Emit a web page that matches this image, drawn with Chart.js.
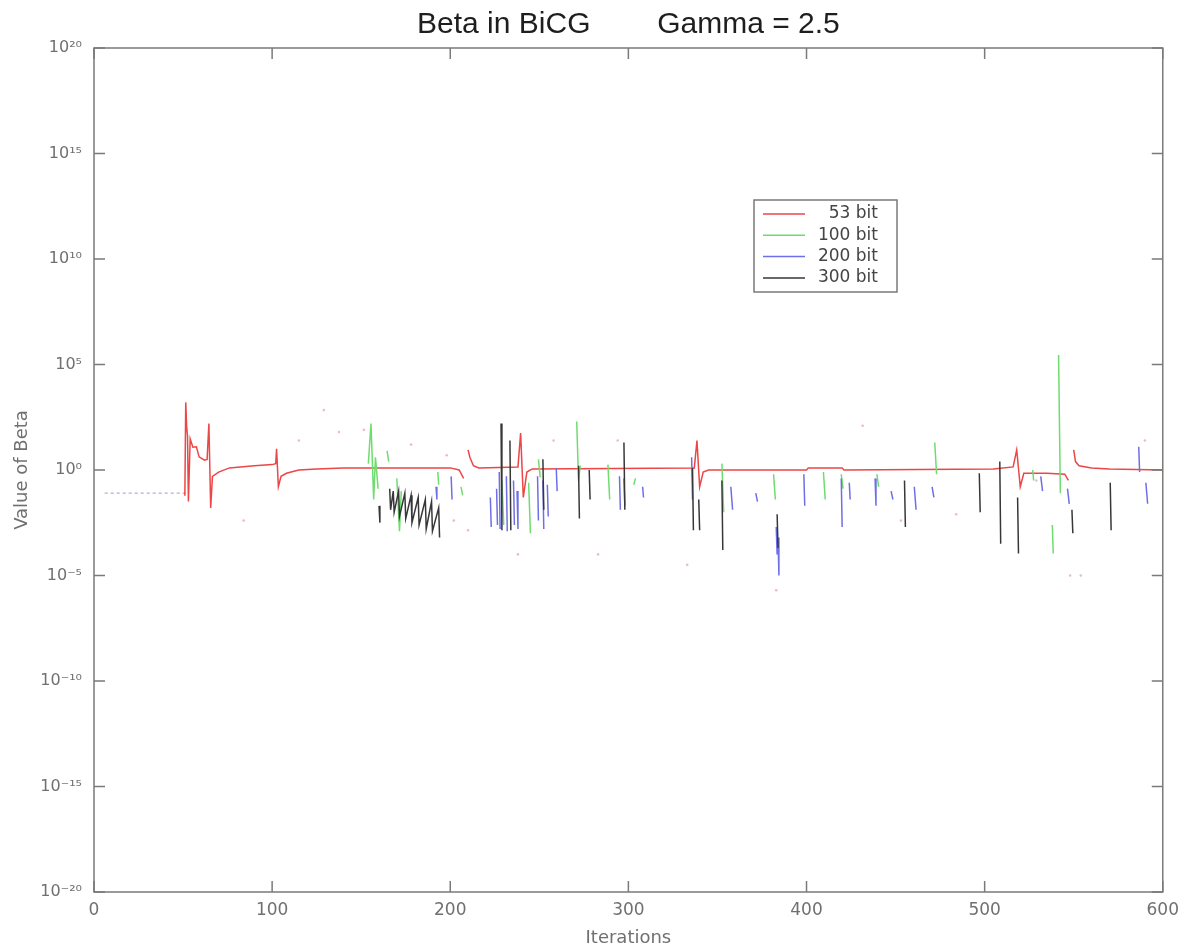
<!DOCTYPE html>
<html>
<head>
<meta charset="utf-8">
<title>Beta in BiCG</title>
<script src="https://cdn.jsdelivr.net/npm/chart.js@4.4.1/dist/chart.umd.min.js"></script>
<style>
  html, body { margin: 0; padding: 0; background: #fff; }
  #chart { display: block; }
</style>
</head>
<body>
<canvas id="chart" width="1187" height="950"></canvas>
<script>
// values, each series is a list of segments of [iteration, beta]
const seriesNames = ["53 bit", "100 bit", "200 bit", "300 bit"];

const bit53 = [
  [[51, 6e-2], [51.5, 1.6e3], [52, 120], [52.5, 40], [53, 3.2e-2], [54, 30], [55.5, 12], [57.5, 12.6],
   [59, 4.2], [62, 2.9], [63.5, 3.2], [64.5, 160], [65.5, 1.6e-2], [66.5, 0.5], [70, 0.8], [76, 1.26],
   [90, 1.6], [100, 1.8], [102, 2], [102.5, 10], [103.5, 0.16], [105, 0.5], [108, 0.7], [115, 1],
   [125, 1.12], [140, 1.26], [200, 1.26], [205, 1], [207.5, 0.4]],
  [[210, 9], [211, 4], [213, 1.6], [216, 1.26], [238, 1.4], [239.5, 56], [241, 5e-2], [243, 0.8],
   [246, 1.12], [337, 1.26], [338.5, 25], [340, 0.16], [342, 0.8], [345, 1], [400, 1], [401, 1.26],
   [420, 1.26], [421, 1], [505, 1.12], [516, 1.4], [518, 9], [520, 0.16], [522, 0.7], [535, 0.7],
   [545, 0.63], [547, 0.32]],
  [[550, 9], [551, 2.5], [553, 1.6], [560, 1.26], [570, 1.12], [600, 1]]
];

const bit100 = [
  [[154, 2], [155.5, 160], [157, 4e-2], [158, 4], [159.5, 0.13]],
  [[164.5, 8], [165.5, 2.5]],
  [[170, 0.4], [171.5, 1.26e-3], [172.5, 0.1]],
  [[193, 0.8], [193.5, 0.2]],
  [[206, 0.16], [207, 6.3e-2]],
  [[229, 0.32], [230, 2.5e-3]],
  [[244, 0.25], [245, 1e-3]],
  [[249.5, 3.2], [250.5, 0.45]],
  [[271, 200], [272, 0.32], [273, 1.6]],
  [[288.5, 1.8], [289.5, 4e-2]],
  [[303, 0.2], [304, 0.4]],
  [[352.5, 2], [353.5, 1e-2]],
  [[381.5, 0.63], [382.5, 4e-2]],
  [[409.5, 0.8], [410.5, 4e-2]],
  [[419.5, 0.63], [420.5, 0.13]],
  [[439.5, 0.63], [440.5, 0.16]],
  [[472, 20], [473, 0.63]],
  [[527, 1], [527.5, 0.32]],
  [[538, 2.5e-3], [538.5, 1.1e-4]],
  [[541.5, 2.8e5], [542.5, 8e-2]]
];

const bit200 = [
  [[192, 0.16], [192.5, 4e-2]],
  [[200.5, 0.5], [201, 4e-2]],
  [[222.5, 5e-2], [223, 2e-3]],
  [[226, 0.13], [226.5, 2.5e-3]],
  [[227.5, 0.8], [228, 1.6e-3]],
  [[231.5, 0.5], [232, 1.26e-3]],
  [[235.5, 0.32], [236, 2.5e-3]],
  [[237.5, 0.1], [238, 1.6e-3]],
  [[249, 0.5], [249.5, 4e-3]],
  [[252, 0.32], [252.5, 1.6e-3]],
  [[254.5, 0.2], [255, 6.3e-3]],
  [[259.5, 1.26], [260, 0.1]],
  [[295, 0.5], [295.5, 1.3e-2]],
  [[297.5, 0.4], [298, 2e-2]],
  [[308, 0.16], [308.5, 5e-2]],
  [[335.5, 4], [336, 4e-2]],
  [[357.5, 0.16], [358.5, 1.3e-2]],
  [[371.5, 8e-2], [372.5, 3.2e-2]],
  [[383, 2e-3], [383.5, 1e-4], [384, 6.3e-4], [384.5, 1e-5]],
  [[398.5, 0.63], [399, 2e-2]],
  [[419.5, 0.4], [420, 2e-3]],
  [[424, 0.25], [424.5, 4e-2]],
  [[438.5, 0.4], [439, 2e-2]],
  [[447.5, 0.1], [448.5, 4e-2]],
  [[460.5, 0.16], [461.5, 1.3e-2]],
  [[470.5, 0.16], [471.5, 5e-2]],
  [[531.5, 0.5], [532.5, 0.1]],
  [[546.5, 0.13], [547.5, 2.5e-2]],
  [[586.5, 12.6], [587, 0.8]],
  [[590.5, 0.25], [591.5, 2.5e-2]]
];

const bit300 = [
  [[160, 2e-2], [160.5, 3.2e-3]],
  [[166, 0.13], [166.5, 1.3e-2], [168, 0.1], [168.5, 1e-2], [171, 0.1], [171.5, 6.3e-3],
   [174.5, 8e-2], [175, 5e-3], [178, 6.3e-2], [178.5, 3.2e-3], [182, 5e-2], [182.5, 2.5e-3],
   [186, 4e-2], [186.5, 1.6e-3], [189.5, 3.2e-2], [190, 1.26e-3], [193.5, 1.6e-2], [194, 6.3e-4]],
  [[228.5, 160], [229, 1.4e-3]],
  [[233.5, 25], [234, 1.4e-3]],
  [[252, 3.2], [252.5, 1.3e-2]],
  [[272, 1.6], [272.5, 5e-3]],
  [[278, 1], [278.5, 4e-2]],
  [[297.5, 20], [298, 1.3e-2]],
  [[336, 1.26], [336.5, 1.4e-3]],
  [[339.5, 4e-2], [340, 1.4e-3]],
  [[352.5, 0.32], [353, 1.6e-4]],
  [[383.5, 8e-3], [384, 2e-4]],
  [[455, 0.32], [455.5, 2e-3]],
  [[497, 0.7], [497.5, 1e-2]],
  [[508.5, 2.5], [509, 3.2e-4]],
  [[518.5, 5e-2], [519, 1.1e-4]],
  [[549, 1.3e-2], [549.5, 1e-3]],
  [[570.5, 0.25], [571, 1.4e-3]]
];

// the faint dotted start and the stray faint points
const startDots = [[[6, 8e-2], [52, 8e-2]]];
const strayPoints = [
  [115, 25], [129, 690], [137.5, 63], [151.5, 80], [178, 16], [198, 5], [202, 4e-3], [210, 1.4e-3],
  [84, 4e-3], [238, 1e-4], [258, 25], [283, 1e-4], [294, 25], [333, 3.2e-5], [383, 2e-6],
  [431.5, 126], [453, 4e-3], [484, 8e-3], [529, 0.32], [548, 1e-5], [554, 1e-5], [590, 25]
];

const xTickValues = [0, 100, 200, 300, 400, 500, 600];
const yTickExponents = [-20, -15, -10, -5, 0, 5, 10, 15, 20];
const yTickLabels = ["10\u207B\u00B2\u2070", "10\u207B\u00B9\u2075", "10\u207B\u00B9\u2070", "10\u207B\u2075",
  "10\u2070", "10\u2075", "10\u00B9\u2070", "10\u00B9\u2075", "10\u00B2\u2070"];

const toPoints = segments =>
  segments.flatMap((seg, i) => {
    const pts = seg.map(([x, y]) => ({ x: x, y: y }));
    return i ? [{ x: seg[0][0], y: null }, ...pts] : pts;
  });

const lineSet = (label, segments, color, order) => ({
  label: label,
  data: toPoints(segments),
  borderColor: color,
  backgroundColor: color,
  borderWidth: 1.5,
  pointRadius: 0,
  spanGaps: false,
  tension: 0,
  fill: false,
  order: order
});

const framePlugin = {
  id: "frame",
  afterDatasetsDraw(chart) {
    const { ctx, chartArea: a, scales } = chart;
    ctx.save();
    ctx.strokeStyle = "#7a7a7a";
    ctx.lineWidth = 1.5;
    ctx.strokeRect(a.left, a.top, a.right - a.left, a.bottom - a.top);
    ctx.beginPath();
    scales.x.ticks.forEach(t => {
      const px = scales.x.getPixelForValue(t.value);
      ctx.moveTo(px, a.bottom);
      ctx.lineTo(px, a.bottom - 11);
      ctx.moveTo(px, a.top);
      ctx.lineTo(px, a.top + 11);
    });
    scales.y.ticks.forEach(t => {
      const py = scales.y.getPixelForValue(t.value);
      ctx.moveTo(a.left, py);
      ctx.lineTo(a.left + 11, py);
      ctx.moveTo(a.right, py);
      ctx.lineTo(a.right - 11, py);
    });
    ctx.stroke();

    // legend box inside the axes, like the original
    const box = { left: 754, top: 200, width: 143, height: 92 };
    ctx.fillStyle = "#fff";
    ctx.fillRect(box.left, box.top, box.width, box.height);
    ctx.strokeStyle = "#7a7a7a";
    ctx.lineWidth = 1.5;
    ctx.strokeRect(box.left, box.top, box.width, box.height);
    ctx.font = "17px 'DejaVu Sans'";
    ctx.textAlign = "right";
    ctx.textBaseline = "middle";
    seriesNames.forEach((name, i) => {
      const ds = chart.data.datasets.find(d => d.label === name);
      const yy = box.top + 14 + i * 21.3;
      ctx.strokeStyle = ds.borderColor;
      ctx.lineWidth = 1.5;
      ctx.beginPath();
      ctx.moveTo(box.left + 9, yy);
      ctx.lineTo(box.left + 51, yy);
      ctx.stroke();
      ctx.fillStyle = "#444";
      ctx.fillText(name, box.left + 124, yy);
    });
    ctx.restore();
  }
};

new Chart(document.getElementById("chart"), {
  type: "line",
  data: {
    datasets: [
      lineSet(seriesNames[0], bit53, "rgb(236,70,70)", 4),
      lineSet(seriesNames[1], bit100, "rgb(110,220,110)", 3),
      lineSet(seriesNames[2], bit200, "rgb(110,110,230)", 2),
      lineSet(seriesNames[3], bit300, "rgb(55,55,55)", 1),
      {
        label: "start",
        data: toPoints(startDots),
        borderColor: "rgba(150,155,190,0.8)",
        borderWidth: 1.2,
        borderDash: [3, 3],
        pointRadius: 0,
        order: 5
      },
      {
        label: "stray",
        data: strayPoints.map(([x, y]) => ({ x: x, y: y })),
        showLine: false,
        pointRadius: 1.3,
        pointBorderWidth: 0,
        pointBackgroundColor: "rgba(225,160,170,0.7)",
        order: 6
      }
    ]
  },
  options: {
    responsive: false,
    animation: false,
    layout: { padding: { left: 0, right: 20, top: 0, bottom: 0 } },
    plugins: {
      legend: { display: false },
      tooltip: { enabled: false },
      title: {
        display: true,
        fullSize: false,
        text: "Beta in BiCG        Gamma = 2.5",
        color: "#1e1e1e",
        font: { family: "'Liberation Sans', Arial", size: 30, weight: "normal" },
        padding: { top: 7, bottom: 5 }
      }
    },
    scales: {
      x: {
        type: "linear",
        min: 0,
        max: 600,
        afterBuildTicks: scale => { scale.ticks = xTickValues.map(v => ({ value: v })); },
        afterFit: scale => { scale.height = 58; },
        grid: { display: false, drawTicks: false },
        border: { display: false },
        ticks: {
          padding: 8,
          maxRotation: 0,
          color: "#707070",
          font: { family: "'DejaVu Sans'", size: 17 }
        },
        title: {
          display: true,
          text: "Iterations",
          color: "#707070",
          font: { family: "'DejaVu Sans'", size: 18 },
          padding: { top: 0, bottom: 1 }
        }
      },
      y: {
        type: "logarithmic",
        min: 1e-20,
        max: 1e20,
        afterBuildTicks: scale => { scale.ticks = yTickExponents.map(e => ({ value: Number("1e" + e) })); },
        afterFit: scale => { scale.width = 94; },
        grid: { display: false, drawTicks: false },
        border: { display: false },
        ticks: {
          padding: 12,
          color: "#707070",
          font: { family: "'DejaVu Sans'", size: 16 },
          callback: (value, index) => yTickLabels[index]
        },
        title: {
          display: true,
          text: "Value of Beta",
          color: "#707070",
          font: { family: "'DejaVu Sans'", size: 18 },
          padding: { top: 12, bottom: 0 }
        }
      }
    }
  },
  plugins: [framePlugin]
});
</script>
</body>
</html>
